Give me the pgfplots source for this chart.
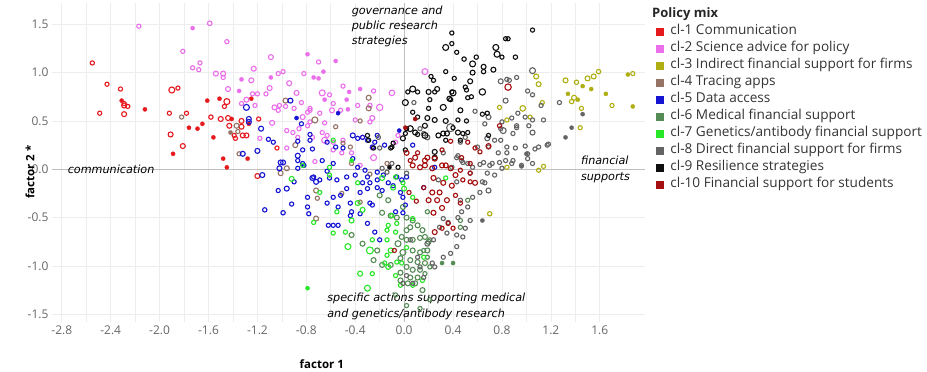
\documentclass[border=0pt]{standalone}
\usepackage{fontspec}
\setmainfont{Open Sans}
\newfontfamily\annfont{DejaVu Sans}
\usepackage{pgfplots}
\pgfplotsset{compat=1.18}
\definecolor{c1}{RGB}{230,25,30}
\definecolor{c2}{RGB}{235,110,235}
\definecolor{c3}{RGB}{175,175,20}
\definecolor{c4}{RGB}{150,115,100}
\definecolor{c5}{RGB}{20,20,210}
\definecolor{c6}{RGB}{85,140,85}
\definecolor{c7}{RGB}{40,230,40}
\definecolor{c8}{RGB}{100,100,100}
\definecolor{c9}{RGB}{15,15,15}
\definecolor{c10}{RGB}{165,15,15}
\pgfplotsset{
  clu/.style={
    scatter, only marks, mark=*, color=#1,
    visualization depends on={max(\thisrow{s},2.1)\as\ms},
    visualization depends on={\thisrow{s}<1.9 \as\fo},
    visualization depends on={ifthenelse(\thisrow{s}<1.9,0.3,1.1)\as\lw},
    scatter/@pre marker code/.code={\scope[mark size=\ms, fill opacity=\fo, line width=\lw pt]},
    scatter/@post marker code/.code={\endscope},
    legend image code/.code={\fill[#1] (0pt,-3.5pt) rectangle (7pt,3.5pt); \path (12pt,0pt);},
  }
}
\begin{document}
\begin{tikzpicture}
\path[use as bounding box] (0,0) rectangle (927pt,372pt);
\begin{axis}[
  at={(52pt,50pt)}, anchor=south west,
  scale only axis, width=593pt, height=319pt,
  xmin=-2.88, xmax=1.97, ymin=-1.58, ymax=1.72,
  xtick={-2.8,-2.4,...,1.7}, ytick={-1.5,-1,...,1.6},
  minor x tick num=1,
  grid=both,
  grid style={draw=black!7, line width=0.6pt},
  minor grid style={draw=black!7, line width=0.6pt},
  axis line style={draw=none},
  major tick length=0pt, minor tick length=0pt,
  extra x ticks={0}, extra y ticks={0},
  extra x tick labels={}, extra y tick labels={},
  extra tick style={grid style={draw=black!25, line width=0.8pt}},
  /pgf/number format/assume math mode=true,
  /pgf/number format/.cd, fixed, fixed zerofill, precision=1, /pgfplots/.cd,
  ticklabel style={font=\fontsize{12}{14}\selectfont, text=black!60},
  xlabel={factor 1}, ylabel={factor 2 *},
  label style={font=\fontsize{11.5}{13}\selectfont\bfseries},
  xlabel style={at={(axis description cs:0.455,-0.133)}, anchor=center},
  ylabel style={at={(axis description cs:-0.037,0.47)}, anchor=center, rotate=0},
  legend entries={cl-1 Communication, cl-2 Science advice for policy, cl-3 Indirect financial support for firms, cl-4 Tracing apps, cl-5 Data access, cl-6 Medical financial support, cl-7 Genetics/antibody financial support, cl-8 Direct financial support for firms, cl-9 Resilience strategies, cl-10 Financial support for students},
  legend cell align=left,
  legend style={at={(1.0185,0.937)}, anchor=north west, draw=none, fill=none,
    inner sep=0pt, outer sep=0pt, row sep=0pt,
    font=\fontsize{13.6}{15}\selectfont, text=black!80,
    nodes={inner sep=2pt, text height=9.5pt, text depth=3.5pt}},
  clip=false,
]
% cl-1
\addplot[clu=c1] table {
x y s
-2.55 1.10 2
-2.43 0.88 2
-2.32 0.83 2
-2.31 0.71 1.8
-2.29 0.68 2
-2.29 0.66 2.5
-2.26 0.65 2
-2.49 0.58 2
-2.29 0.57 2.5
-2.12 0.62 1.8
-1.90 0.82 3
-1.85 0.84 2
-1.92 0.58 2
-1.78 0.58 2
-1.91 0.36 2.5
-1.76 0.43 1.8
-1.69 0.42 1.8
-1.65 0.47 1.8
-1.89 0.16 1.8
-1.81 0.24 2.5
-1.61 0.71 1.8
-1.51 0.73 1.8
-1.58 0.54 2.2
-1.56 0.33 1.8
-1.48 0.11 1.8
-1.45 0.02 1.8
-1.45 0.70 3
-1.47 0.65 2
-1.50 0.52 2.5
-1.44 0.53 2.5
-1.43 0.45 2.5
-1.41 0.52 1.8
-1.39 0.35 2
-1.38 0.32 2
-1.33 0.50 2.5
-1.33 0.44 2.5
-1.32 0.35 2.5
-1.29 0.35 2.5
-1.28 0.11 1.8
-1.27 0.47 1.8
-1.25 0.73 1.8
-1.19 0.52 2
-1.20 -0.07 2.5
-1.04 0.22 2
};
% cl-2
\addplot[clu=c2] table {
x y s
-2.17 1.48 2
-1.73 1.46 1.6
-1.59 1.51 2.3
-1.81 1.22 2
-1.45 1.32 2
-1.73 1.05 2
-1.67 1.10 2
-1.68 1.03 2
-1.54 0.99 2.5
-1.48 0.99 2.5
-1.48 0.95 2
-1.44 0.83 2.5
-1.33 0.93 1.8
-1.25 0.92 2.5
-1.23 1.04 2.5
-1.35 0.81 1.8
-1.24 0.78 2
-1.20 0.78 2
-1.29 0.72 2.5
-1.33 0.68 2
-1.22 0.66 2
-1.13 0.78 2
-1.10 0.84 2.5
-1.09 1.16 2.5
-1.09 0.95 1.8
-1.03 0.99 2
-0.99 1.01 2
-0.94 0.89 2.5
-0.88 0.79 2.5
-1.06 0.64 2.5
-1.02 0.66 2
-1.03 0.61 2
-0.97 0.65 2
-0.90 0.63 2
-0.84 0.69 2
-0.82 0.99 2
-0.79 1.19 1.2
-0.74 0.95 1.8
-0.70 1.11 2
-0.77 0.61 2
-0.83 0.54 2.5
-0.77 0.49 2
-1.08 0.48 2.5
-0.96 0.22 2
-0.73 0.08 2
-0.86 0.42 2
-0.87 0.33 2
-0.96 0.40 2
-1.18 0.32 2
-0.91 0.38 2
-0.79 0.45 2
-0.56 1.12 1.8
-0.66 1.01 1.8
-0.70 0.94 1.8
-0.50 0.86 2
-0.45 0.80 1.8
-0.36 0.83 1.8
-0.67 0.79 3
-0.61 0.77 2
-0.25 0.81 2
-0.10 0.79 2.8
-0.65 0.72 1.8
-0.47 0.72 1.8
-0.58 0.68 2
-0.38 0.66 2
-0.20 0.64 3.2
-0.28 0.66 2.2
-0.79 0.59 2
-0.77 0.63 2
-0.69 0.58 2
-0.59 0.61 2.5
-0.52 0.61 2
-0.46 0.62 1.8
-0.40 0.51 2
-0.26 0.53 2.5
-0.28 0.49 2
-0.65 0.48 2
-0.67 0.38 2
-0.63 0.35 2
-0.65 0.30 3
-0.75 0.33 2
-0.58 0.28 2
-0.50 0.30 2
-0.58 0.20 2
-0.51 0.17 2
-0.34 0.33 2
-0.26 0.22 2
-0.25 0.12 3
-0.43 0.17 2
-0.05 0.35 2
-0.07 0.28 2
0.17 1.01 3
-0.36 0.04 2
};
% cl-3
\addplot[clu=c3] table {
x y s
1.08 0.96 2.5
1.10 0.88 2.5
1.32 0.92 2.5
1.41 0.90 2.2
1.50 0.94 2.5
1.55 0.96 2.5
1.59 1.01 2.2
1.46 0.86 1.8
1.53 0.83 1.8
1.34 0.78 1.8
1.39 0.74 2.5
1.42 0.72 1.8
1.37 0.70 2.2
1.65 0.78 1.8
1.83 0.98 1.8
1.87 0.99 2
1.45 0.63 2
1.70 0.66 2
1.87 0.65 1.8
1.44 0.43 2
1.13 0.69 2
0.97 0.63 2.8
1.03 0.54 2
0.84 0.51 2
0.78 0.64 2
0.84 0.02 2
1.14 0.03 2
1.10 -0.01 2
0.70 -0.46 2.2
};
% cl-4
\addplot[clu=c4] table {
x y s
-1.82 0.54 2
-1.37 0.45 2.5
-1.42 0.38 1.8
-1.36 0.39 2
-1.35 0.16 2
-0.97 0.71 2.5
-0.73 0.51 3
-0.89 0.25 2.5
-0.96 0.01 2.5
-1.01 -0.04 2.5
-0.72 -0.51 2.5
-0.72 -0.22 2.5
-0.56 0.44 2
-0.50 0.27 2
-0.44 0.23 2
-0.43 0.06 2
-0.29 0.74 2.5
-0.29 0.63 2.5
-0.36 0.50 2
-0.51 -0.25 2
-0.71 -0.30 2
-0.36 -0.34 2
-0.14 0.06 2
-0.28 -0.05 2
};
% cl-5
\addplot[clu=c5] table {
x y s
-1.29 0.64 3
-1.27 0.52 2.5
-1.27 0.49 2.5
-1.17 0.42 2.5
-1.20 0.19 2.5
-1.32 0.16 2.5
-1.11 0.31 2
-1.07 0.28 2
-1.01 0.07 2.5
-0.99 0.07 2.5
-1.02 0.01 2.5
-1.16 -0.06 2.5
-0.93 0.71 2.5
-0.88 0.53 1.8
-0.84 0.47 2
-0.87 0.29 2
-0.87 0.14 2.5
-0.87 0.09 2
-0.82 0.04 2
-0.77 0.36 2
-0.77 0.30 2
-0.75 0.21 2
-0.87 0.01 2
-0.75 -0.09 2.5
-0.72 -0.13 2.5
-0.90 -0.13 2
-1.03 -0.22 2
-0.96 -0.20 2.5
-0.92 -0.36 2
-1.14 -0.42 2.2
-0.99 -0.45 2.2
-0.79 -0.39 2
-0.78 -0.46 2
-0.69 -0.11 2
-0.61 -0.09 2
-0.55 -0.11 2
-0.47 -0.08 2
-0.40 -0.06 2
-0.34 -0.14 2
-0.36 -0.24 2
-0.30 -0.20 2
-0.28 -0.14 2
-0.22 -0.11 2
-0.22 -0.19 2
-0.18 -0.22 2
-0.47 -0.20 2
-0.52 -0.27 2
-0.58 -0.29 2
-0.63 -0.35 2
-0.79 -0.29 2
-0.54 -0.39 2
-0.44 -0.35 2
-0.43 -0.44 2
-0.44 -0.48 2
-0.36 -0.46 2
-0.30 -0.56 2
-0.24 -0.65 2
-0.62 -0.58 2
-0.58 -0.58 2
-0.54 -0.58 2
-0.28 -0.35 2
-0.26 -0.37 2
-0.13 -0.14 2
-0.06 -0.08 2
-0.09 -0.17 2
-0.02 -0.11 2
0.02 -0.08 2
-0.03 -0.24 2
-0.01 -0.29 2
-0.20 -0.73 2
-0.07 -0.44 2
-0.63 -0.02 2
-0.54 0.58 1.4
-0.63 0.28 2
-0.83 0.20 2
-0.56 0.23 2
-0.50 0.22 2
-0.42 0.35 2.5
-0.38 0.32 2
-0.34 0.33 2
-0.30 0.30 2
-0.22 0.35 2
-0.24 0.28 2
-0.26 0.23 2
-0.42 0.11 2
-0.83 0.06 2
-0.67 0.09 2
-0.58 0.06 2
-0.38 0.02 2
-0.32 -0.01 2
-0.22 -0.03 2
-0.17 -0.06 2
-0.30 -0.08 2
-0.74 -0.08 2
-0.04 0.40 1.8
-0.16 0.25 2
0.25 0.02 2
0.16 -0.19 2
0.01 -0.37 2
-0.01 -0.45 2
0.07 0.25 2
};
% cl-6
\addplot[clu=c6] table {
x y s
-0.20 -0.27 2.5
-0.13 -0.32 2.5
-0.18 -0.45 2.5
-0.11 -0.48 2.5
-0.06 -0.50 2.5
-0.01 -0.39 2.5
0.02 -0.50 2.5
0.07 -0.53 2.5
0.11 -0.58 2.5
0.15 -0.63 2.5
0.02 -0.63 2.5
-0.02 -0.70 2.5
-0.05 -0.77 3
0.02 -0.73 2.5
0.07 -0.73 2.5
0.13 -0.71 2.5
0.17 -0.70 2.5
0.20 -0.75 2.5
0.07 -0.84 2.5
0.13 -0.86 2.5
0.19 -0.84 2.5
-0.01 -0.86 3
-0.03 -0.92 2.5
0.05 -0.94 2.5
0.11 -0.96 2.5
0.17 -0.97 2.5
0.02 -1.01 2.5
0.07 -1.04 2.5
-0.03 -1.07 2.5
0.13 -1.04 2.5
0.05 -1.12 2.5
0.11 -1.12 2.5
0.09 -1.18 2.5
0.03 -1.18 2.5
-0.03 -1.15 2.5
0.15 -1.25 2.5
-0.25 -0.94 2.5
-0.18 -0.99 2.5
-0.11 -0.99 2.5
-0.22 -0.84 2.5
-0.43 -0.68 2.5
-0.34 -0.77 2.5
0.05 -0.60 2.5
0.21 -0.73 2
0.16 -0.84 2
0.19 -0.91 2
0.21 -1.01 2
0.17 -1.08 2
0.31 -0.97 1.7
0.40 -0.97 1.5
0.46 -0.53 2
0.46 -0.60 2
0.52 -0.32 2
0.19 -0.44 2
0.13 -1.44 2
0.02 -1.41 2
-0.07 -1.30 2
0.21 -1.35 2
};
% cl-7
\addplot[clu=c7] table {
x y s
-0.43 -0.53 2.5
-0.28 -0.84 3.5
-0.26 -0.73 2
-0.46 -0.80 3
-0.48 -0.65 2
-0.58 -0.66 2
-0.74 -0.55 2
-0.38 -0.35 2.5
-0.18 -0.09 2.5
-0.09 -0.19 2.5
0.00 -0.20 2.5
-0.13 -0.58 2
-0.07 -0.65 2
-0.14 -0.73 2
-0.11 -0.84 2.5
-0.14 -0.89 2
-0.16 -0.97 2
-0.13 -1.01 2.5
-0.06 -0.96 2
-0.26 -1.08 2
-0.36 -1.08 2.5
-0.30 -1.23 3
-0.07 -1.10 2
-0.03 -1.20 2
-0.79 -1.23 1.5
-0.14 -0.63 2
-0.10 -0.48 2
-0.06 -0.56 2
-0.01 -0.14 2
0.07 -0.29 2
0.07 -0.51 2
0.02 -0.81 2
-0.02 -0.97 2
0.16 -0.91 2
0.15 -1.15 2
0.07 -1.20 2
0.34 -0.09 2
-0.92 -0.10 2.5
-0.58 0.30 2
-0.43 0.09 1.8
-0.83 0.04 2
-0.61 -0.06 2
-0.61 0.02 2
-0.38 -0.14 2
-0.07 -0.08 2
-0.34 -0.42 2.5
-0.55 -0.44 2
-0.69 -0.24 2
};
% cl-8
\addplot[clu=c8] table {
x y s
0.79 0.91 2.5
0.84 0.93 2
0.86 0.92 2
1.05 1.02 3
0.92 0.95 2
1.01 0.81 2
1.05 0.77 2
0.83 0.71 2.5
0.08 0.69 2
0.58 0.60 2
0.69 0.54 2.5
0.66 0.47 2
0.38 0.43 4
0.88 0.53 2
0.80 0.49 2
0.93 0.58 2
0.99 0.54 2
1.05 0.51 2
1.14 0.51 2
0.79 0.42 2
0.92 0.43 2
0.89 0.37 2
1.05 0.38 2.5
0.13 0.42 2
0.19 0.33 2.5
0.16 0.37 2
0.46 0.28 2
0.50 0.33 2
0.68 0.32 2.5
0.74 0.30 2
0.79 0.30 2
0.60 0.23 2
0.69 0.23 2
0.84 0.23 2
0.91 0.22 2
0.99 0.24 2
1.10 0.23 2
1.17 0.25 2
0.77 0.17 2
0.84 0.17 2
0.89 0.09 2
1.01 0.11 2
1.05 0.06 2
0.44 0.14 2
0.47 0.09 2
0.65 0.07 2
0.72 0.06 2
0.56 0.02 2
1.27 0.69 2
1.12 0.66 2
0.92 0.45 2
1.02 0.45 2
0.81 0.40 3
1.46 0.57 1.8
1.37 0.43 1.8
1.32 0.33 1.8
1.18 0.26 2
1.07 0.21 2
1.00 0.16 1.8
0.96 0.03 1.8
0.83 0.09 2
0.80 0.01 2
0.43 0.12 2
0.52 0.06 2
0.62 0.05 2
0.70 0.04 2
0.74 -0.06 2
0.78 0.07 2
0.88 0.06 2
0.96 0.04 2
1.01 0.16 2
0.66 -0.14 2
0.69 -0.22 2.5
0.62 -0.24 2
0.56 -0.29 2
0.46 -0.32 2
0.52 -0.39 2
0.47 -0.44 2
0.44 -0.50 2
0.54 -0.53 2
0.64 -0.53 1.8
0.50 -0.61 2
0.43 -0.68 2
0.48 -0.70 2
0.43 -0.80 2
0.38 -0.87 2
0.25 -1.01 2
0.23 -0.97 2
0.32 -0.91 2
0.11 -0.91 2
0.13 -1.01 2
0.16 -1.12 2
0.02 -1.10 2
0.07 -1.18 2
-0.01 -1.18 2
0.32 -0.51 2
0.36 -0.55 2
0.29 -0.60 2
0.35 -0.66 2
0.24 -0.73 2
0.19 -0.77 2.5
0.05 -0.73 2
0.39 0.02 2
0.48 0.07 2
0.32 0.17 2
0.28 -0.11 2
0.43 -0.13 2
0.64 -0.13 2
0.54 -0.04 2
0.68 -0.04 2
0.02 -0.04 2
-0.14 -0.03 2
-0.10 0.06 2
-0.18 0.01 2
-0.20 0.22 2
-0.21 0.33 2
};
% cl-9
\addplot[clu=c9] table {
x y s
0.39 1.41 2
1.05 1.44 2
0.39 1.30 2
0.34 1.26 3
0.43 1.21 2
0.49 1.14 2.2
0.59 1.16 2.2
0.75 1.26 3
0.83 1.35 2
0.85 1.35 2
0.76 1.19 3
0.80 1.16 2
0.91 1.16 2.2
0.56 1.09 3
0.65 1.06 2.5
0.65 1.01 2.2
0.73 1.03 2.5
0.34 1.01 2
0.56 1.00 2.5
0.41 0.94 2
0.54 0.91 2.5
0.22 0.96 2
0.24 0.92 2
0.07 0.83 3
0.03 0.80 2
0.11 0.80 2
0.27 0.83 2.5
0.25 0.80 2
0.40 0.79 3
0.50 0.85 2
0.51 0.82 2
0.55 0.75 2
0.64 0.80 3.2
0.21 0.72 2
0.38 0.72 2
0.01 0.69 3
0.07 0.59 2
0.32 0.64 3
0.46 0.61 2.5
0.25 0.51 2.5
0.34 0.50 2.5
0.64 0.57 2
0.68 0.58 2
0.05 0.42 3
0.02 0.42 2
0.28 0.35 2.5
0.35 0.37 2.5
0.34 0.30 2
0.17 0.35 3
0.44 0.38 2.5
0.46 0.30 2
0.25 0.18 2.5
0.25 0.12 2.5
0.01 0.20 2
-0.05 0.02 2
-0.12 0.02 1.7
-0.25 0.22 2
-0.30 0.35 2
-0.10 0.23 2
0.69 0.35 2
0.20 0.80 2.5
0.37 0.73 2.5
0.39 0.80 2
0.52 0.74 2
0.44 0.51 2
0.32 0.37 2.5
0.40 0.43 2
0.51 0.50 2
0.48 0.37 2
0.52 0.38 2
0.01 0.37 2
-0.29 0.30 2
-0.11 0.22 2
-0.09 0.27 2
-0.01 0.32 2.5
0.09 0.38 2.5
0.17 0.45 2.5
0.11 0.54 2
0.19 0.53 2.5
0.20 0.63 2
0.11 0.36 2
};
% cl-10
\addplot[clu=c10] table {
x y s
0.02 0.17 2.5
0.09 0.12 2.5
0.19 0.12 2.5
0.07 0.04 2.5
0.13 0.02 2.5
0.17 0.04 2.5
0.23 0.01 2.5
0.34 0.04 2.5
0.38 0.01 2.5
0.42 -0.06 2.5
0.46 -0.01 2
0.54 -0.04 2
0.48 -0.11 2
0.58 -0.14 2.5
0.24 -0.09 2.5
0.32 -0.14 2.5
0.39 -0.17 2.5
0.29 -0.24 2.5
0.23 -0.24 2.5
0.16 -0.19 2
0.20 -0.32 2.5
0.27 -0.32 2.5
0.35 -0.32 2.5
0.42 -0.27 2
0.46 -0.35 2
0.31 -0.40 2.5
0.24 -0.45 2.5
0.36 -0.56 2
0.40 -0.61 2
0.25 -0.65 2.5
0.31 -0.61 2
0.54 -0.13 2
0.62 0.18 2
0.85 0.85 3.2
0.78 0.45 2
0.09 0.52 1.8
0.01 0.43 1.8
0.38 0.29 2
0.52 0.28 2
0.58 0.22 2
0.69 0.24 2.5
0.31 0.20 2
0.11 0.17 2
0.17 0.09 2.5
0.25 0.11 2.5
0.31 0.04 2.5
0.05 0.09 2
0.47 0.12 2
0.54 0.06 2
-0.08 -0.84 2
0.04 -0.24 2
0.10 -0.33 2
};
\node[anchor=west, font=\annfont\itshape\fontsize{11.2}{15}\selectfont] at (axis cs:-2.78,0.0) {communication};
\node[anchor=north west, align=left, inner sep=0pt, font=\annfont\itshape\fontsize{11.2}{15}\selectfont] at (axis cs:-0.43,1.69) {governance and\\public research\\strategies};
\node[anchor=west, align=left, inner sep=0pt, font=\annfont\itshape\fontsize{11.2}{16}\selectfont] at (axis cs:1.445,0.0) {financial\\supports};
\node[anchor=west, align=left, inner sep=0pt, font=\annfont\itshape\fontsize{11.2}{16}\selectfont] at (axis cs:-0.63,-1.42) {specific actions supporting medical\\and genetics/antibody research};
\end{axis}
\node[anchor=west, inner sep=0pt, font=\fontsize{13}{15}\selectfont\bfseries, text=black!85] at (652pt,358pt) {Policy mix};
\end{tikzpicture}
\end{document}
